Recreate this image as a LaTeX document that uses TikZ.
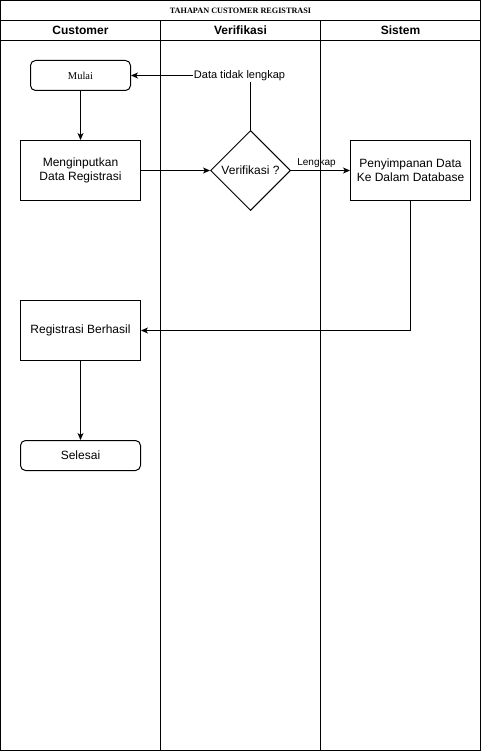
\documentclass[tikz,border=0pt]{standalone}
\usepackage{fontspec}
\setmainfont{Liberation Sans}
\newfontfamily\serifft{Liberation Serif}
\usetikzlibrary{shapes.geometric,arrows.meta}
\begin{document}
\begin{tikzpicture}[x=1pt,y=-1pt,line width=1pt,
  box/.style={draw,rectangle,minimum width=120pt,minimum height=60pt,align=center,font=\fontsize{12}{14}\selectfont,inner sep=0pt},
  rbox/.style={draw,rectangle,rounded corners=5pt,align=center,inner sep=0pt},
  dia/.style={draw,diamond,minimum width=80pt,minimum height=80pt,inner sep=0pt,font=\fontsize{12}{14}\selectfont},
  arr/.style={-{Stealth[length=7pt,width=6pt,inset=2pt]}},
  head/.style={font=\fontsize{12}{14}\selectfont\bfseries}]
\useasboundingbox (0,0) rectangle (481,751);
% swimlanes
\draw (0.5,0.5) rectangle (480.5,750.5);
\draw (0.5,20.5) -- (480.5,20.5);
\draw (0.5,40.5) -- (480.5,40.5);
\draw (160.5,20.5) -- (160.5,750.5);
\draw (320.5,20.5) -- (320.5,750.5);
\node[font=\serifft\fontsize{8.2}{9}\selectfont\bfseries] (title) at (240.5,10.5) {TAHAPAN CUSTOMER REGISTRASI};
\node[head] (h1) at (80.5,30.5) {Customer};
\node[head] (h2) at (240.5,30.5) {Verifikasi};
\node[head] (h3) at (400.5,30.5) {Sistem};
% nodes
\node[rbox,minimum width=100pt,minimum height=30pt,font=\serifft\fontsize{10.5}{12}\selectfont] (mulai) at (80.5,75.5) {Mulai};
\node[box] (input) at (80.5,170.5) {Menginputkan\\Data Registrasi};
\node[dia] (ver) at (250.5,170.5) {Verifikasi ?};
\node[box] (simpan) at (410.5,170.5) {Penyimpanan Data\\Ke Dalam Database};
\node[box] (berhasil) at (80.5,330.5) {Registrasi Berhasil};
\node[rbox,minimum width=120pt,minimum height=30pt,font=\fontsize{12}{14}\selectfont] (selesai) at (80.5,455.5) {Selesai};
% connectors
\draw[arr] (mulai) -- (input);
\draw[arr] (input) -- (ver);
\draw[arr] (ver) -- node[above,font=\fontsize{10}{12}\selectfont,inner sep=1pt,yshift=1pt,xshift=-4pt] (lk) {Lengkap} (simpan);
\coordinate (c1) at (250.5,75.5);
\draw[arr] (ver.north) -- (c1) -- (mulai.east);
\node[fill=white,inner sep=0.5pt,font=\fontsize{11}{13}\selectfont] (dtl) at (239.5,76) {Data tidak lengkap};
\coordinate (c2) at (410.5,330.5);
\draw[arr] (simpan.south) -- (c2) -- (berhasil.east);
\draw[arr] (berhasil) -- (selesai);
\end{tikzpicture}
\end{document}
